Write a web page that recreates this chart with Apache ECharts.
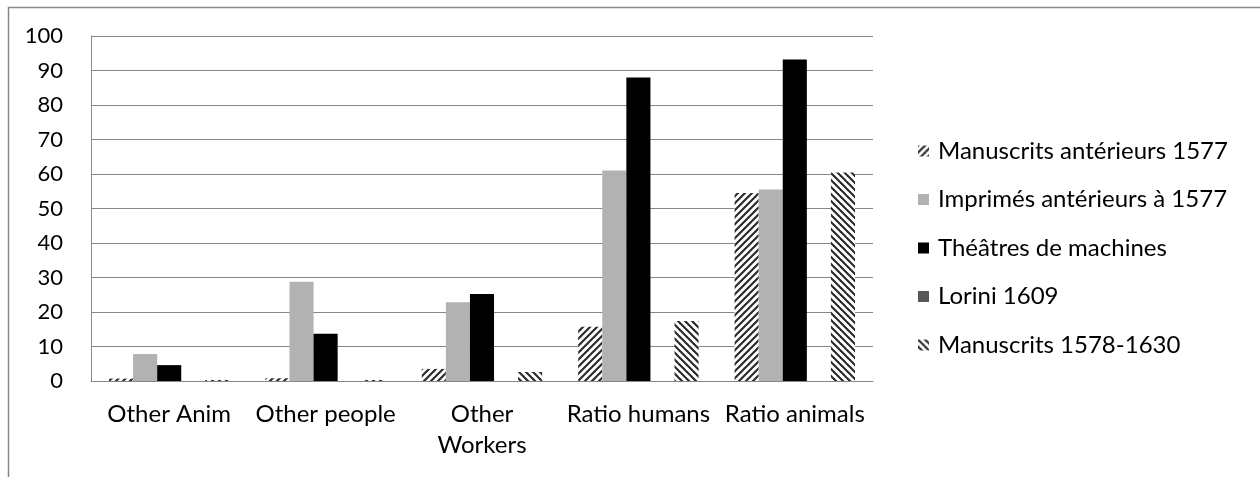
<!DOCTYPE html>
<html>
<head>
<meta charset="utf-8">
<script src="https://cdn.jsdelivr.net/npm/echarts@6/dist/echarts.min.js"></script>
<style>html,body{margin:0;padding:0;background:#fff;}#c{width:1260px;height:477px;}</style>
</head>
<body>
<div id="c"></div>
<script>
const categories = ['Other Anim', 'Other people', 'Other Workers', 'Ratio humans', 'Ratio animals'];
const seriesNames = ['Manuscrits antérieurs 1577', 'Imprimés antérieurs à 1577', 'Théâtres de machines', 'Lorini 1609', 'Manuscrits 1578-1630'];
const manuscritsAnt = [0.7, 0.8, 3.5, 15.7, 54.5];
const imprimes = [7.8, 28.8, 22.8, 61.0, 55.5];
const theatres = [4.6, 13.7, 25.2, 88.0, 93.2];
const lorini = [0, 0, 0, 0, 0];
const manuscrits1578 = [0.3, 0.3, 2.6, 17.4, 60.4];
const yTicks = [0, 10, 20, 30, 40, 50, 60, 70, 80, 90, 100];

function hatchTile(dir) {
  const s = 7;
  const c = document.createElement('canvas');
  c.width = s; c.height = s;
  const g = c.getContext('2d');
  g.fillStyle = '#fff'; g.fillRect(0, 0, s, s);
  g.strokeStyle = '#2a2a2a'; g.lineWidth = 2.1;
  for (let k = -1; k <= 1; k++) {
    g.beginPath();
    if (dir === '/') { g.moveTo(k * s - 1, s + 1); g.lineTo(k * s + s + 1, -1); }
    else { g.moveTo(k * s - 1, -1); g.lineTo(k * s + s + 1, s + 1); }
    g.stroke();
  }
  return c;
}
const patA = { image: hatchTile('/'), repeat: 'repeat' };
const patB = { image: hatchTile('\\'), repeat: 'repeat' };

const FONT = 'Lato';
const chart = echarts.init(document.getElementById('c'), null, { renderer: 'canvas' });
const colors = [patA, '#b2b2b2', '#000000', '#595959', patB];
const datas = [manuscritsAnt, imprimes, theatres, lorini, manuscrits1578];

chart.setOption({
  animation: false,
  textStyle: { fontFamily: FONT },
  graphic: [{
    type: 'rect', shape: { x: 8.5, y: 7.5, width: 1300, height: 520 },
    style: { fill: 'none', stroke: '#878787', lineWidth: 1.5 }, silent: true
  }],
  grid: { left: 91, right: 387, top: 36, bottom: 96 },
  legend: {
    orient: 'vertical', left: 913, top: 133,
    itemWidth: 11, itemHeight: 11, itemGap: 22.5,
    icon: 'rect',
    data: seriesNames,
    textStyle: { fontFamily: FONT, fontSize: 24, color: '#000', lineHeight: 26, padding: [0, 0, 0, 4] }
  },
  xAxis: {
    type: 'category', data: categories,
    axisLine: { lineStyle: { color: '#878787', width: 1 } },
    axisTick: { show: false },
    axisLabel: {
      fontFamily: FONT, fontSize: 24, color: '#000', margin: 18, lineHeight: 31, interval: 0,
      formatter: v => v === 'Other Workers' ? 'Other\nWorkers' : v
    }
  },
  yAxis: {
    type: 'value', min: yTicks[0], max: yTicks[yTicks.length - 1], interval: 10,
    axisLine: { show: true, lineStyle: { color: '#878787', width: 1 } },
    axisTick: { show: false },
    splitLine: { lineStyle: { color: '#878787', width: 1 } },
    axisLabel: { fontFamily: FONT, fontSize: 22, color: '#000', margin: 28 }
  },
  series: seriesNames.map((n, i) => ({
    name: n, type: 'bar', data: datas[i],
    barGap: '0%', barCategoryGap: '23%',
    itemStyle: { color: colors[i] }
  }))
});
</script>
</body>
</html>
